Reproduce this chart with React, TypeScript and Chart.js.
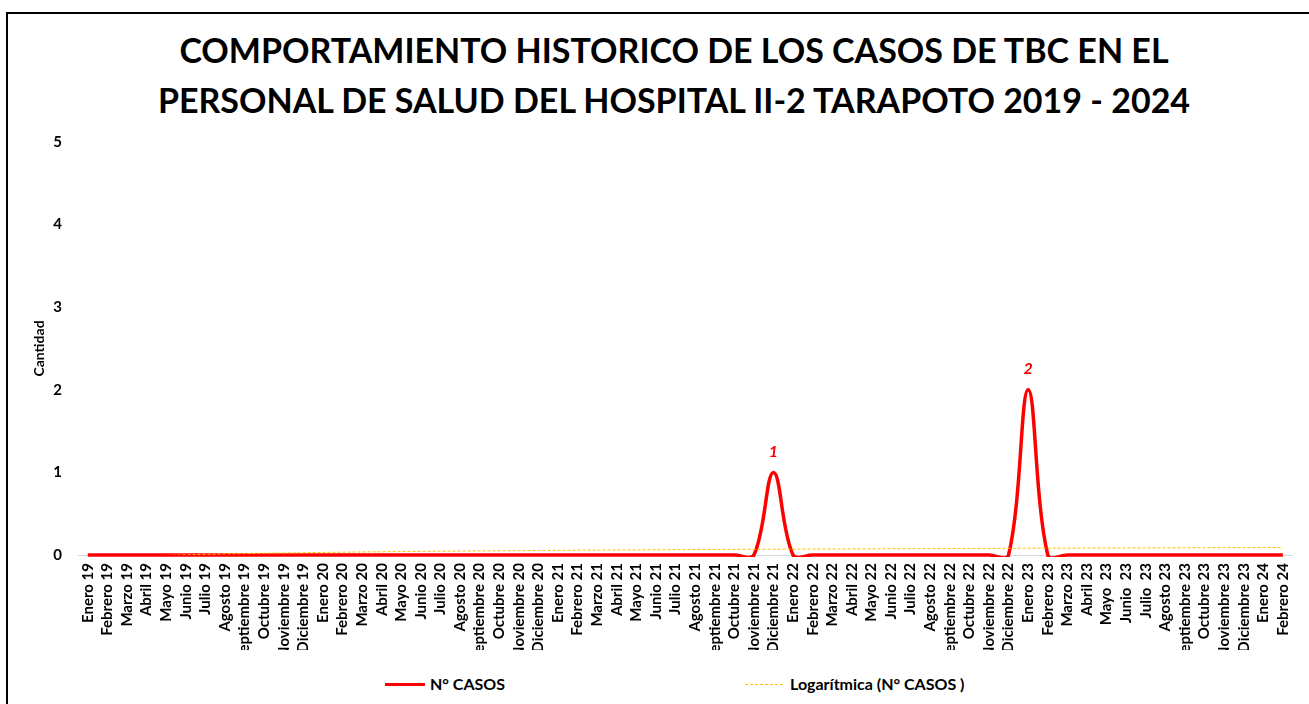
import React, { useEffect, useRef } from "react";
import { Chart, registerables } from "chart.js";

Chart.register(...registerables);

const CATEGORIES: string[] = [
  "Enero 19", "Febrero 19", "Marzo 19", "Abril 19", "Mayo 19", "Junio 19",
  "Julio 19", "Agosto 19", "Septiembre 19", "Octubre 19", "Noviembre 19", "Diciembre 19",
  "Enero 20", "Febrero 20", "Marzo 20", "Abril 20", "Mayo 20", "Junio 20",
  "Julio 20", "Agosto 20", "Septiembre 20", "Octubre 20", "Noviembre 20", "Diciembre 20",
  "Enero 21", "Febrero 21", "Marzo 21", "Abril 21", "Mayo 21", "Junio 21",
  "Julio 21", "Agosto 21", "Septiembre 21", "Octubre 21", "Noviembre 21", "Diciembre 21",
  "Enero 22", "Febrero 22", "Marzo 22", "Abril 22", "Mayo 22", "Junio 22",
  "Julio 22", "Agosto 22", "Septiembre 22", "Octubre 22", "Noviembre 22", "Diciembre 22",
  "Enero 23", "Febrero 23", "Marzo 23", "Abril 23", "Mayo  23", "Junio  23",
  "Julio  23", "Agosto 23", "Septiembre 23", "Octubre 23", "Noviembre 23", "Diciembre 23",
  "Enero 24", "Febrero 24",
];

const CASOS: number[] = [
  0, 0, 0, 0, 0, 0, 0, 0, 0, 0, 0, 0,
  0, 0, 0, 0, 0, 0, 0, 0, 0, 0, 0, 0,
  0, 0, 0, 0, 0, 0, 0, 0, 0, 0, 0, 1,
  0, 0, 0, 0, 0, 0, 0, 0, 0, 0, 0, 0,
  2, 0, 0, 0, 0, 0, 0, 0, 0, 0, 0, 0,
  0, 0,
];

// Logarithmic trend line
const TENDENCIA: number[] = [
  -0.066, -0.040, -0.024, -0.013, -0.005, 0.002, 0.008, 0.013, 0.017, 0.022, 0.025, 0.028,
  0.031, 0.034, 0.037, 0.039, 0.042, 0.044, 0.046, 0.048, 0.050, 0.051, 0.053, 0.055,
  0.056, 0.058, 0.059, 0.061, 0.062, 0.063, 0.064, 0.066, 0.067, 0.068, 0.069, 0.070,
  0.071, 0.072, 0.073, 0.074, 0.075, 0.076, 0.077, 0.078, 0.079, 0.079, 0.080, 0.081,
  0.082, 0.083, 0.083, 0.084, 0.085, 0.086, 0.086, 0.087, 0.088, 0.088, 0.089, 0.090,
  0.090, 0.091,
];

const Y_TICKS: number[] = [0, 1, 2, 3, 4, 5];

const TITLE_LINES: string[] = [
  "COMPORTAMIENTO HISTORICO DE LOS CASOS DE TBC EN EL",
  "PERSONAL DE SALUD DEL HOSPITAL II-2 TARAPOTO 2019 - 2024",
];

const SERIES_NAME = "N° CASOS";
const TREND_NAME = "Logarítmica (N° CASOS )";
const Y_TITLE = "Cantidad";

const FONT = "Lato, 'Open Sans', sans-serif";

const peakLabels = {
  id: "peakLabels",
  afterDatasetsDraw(chart: any) {
    const idx = chart.data.datasets.findIndex((d: any) => d.label === SERIES_NAME);
    const meta = chart.getDatasetMeta(idx);
    const ctx = chart.ctx;
    ctx.save();
    ctx.font = `italic bold 16px ${FONT}`;
    ctx.fillStyle = "#FF0000";
    ctx.textAlign = "center";
    ctx.textBaseline = "middle";
    meta.data.forEach((pt: any, i: number) => {
      const v = CASOS[i];
      if (v > 0) ctx.fillText(String(v), pt.x, pt.y - 21);
    });
    ctx.restore();
  },
};

export default function App() {
  const ref = useRef<HTMLCanvasElement | null>(null);

  useEffect(() => {
    if (!ref.current) return;
    const chart = new Chart(ref.current, {
      type: "line",
      data: {
        labels: CATEGORIES,
        datasets: [
          {
            label: SERIES_NAME,
            data: CASOS,
            borderColor: "#FF0000",
            backgroundColor: "#FF0000",
            borderWidth: 3.5,
            pointRadius: 0,
            tension: 0.38,
            order: 1,
            clip: { left: 3, right: 3, top: 3, bottom: 2 } as any,
          },
          {
            label: TREND_NAME,
            data: TENDENCIA,
            borderColor: "#FFC000",
            backgroundColor: "#FFC000",
            borderWidth: 1,
            borderDash: [3, 2],
            pointRadius: 0,
            tension: 0,
            order: 0,
            clip: 0 as any,
          },
        ],
      },
      options: {
        responsive: false,
        animation: false,
        events: [],
        layout: { padding: { top: 142, right: 16, bottom: 0, left: 0 } },
        elements: { line: { capBezierPoints: false } },
        plugins: {
          legend: { display: false },
          tooltip: { enabled: false },
          title: { display: false },
        },
        scales: {
          x: {
            offset: true,
            grid: { display: false, drawTicks: false },
            border: { display: true, color: "#D9D9D9", width: 1 },
            ticks: {
              autoSkip: false,
              minRotation: 90,
              maxRotation: 90,
              padding: 8,
              color: "#000",
              font: { family: FONT, size: 15, weight: "bold" },
            },
            afterFit: (scale: any) => {
              scale.height = 95;
            },
          },
          y: {
            min: 0,
            max: 5,
            afterBuildTicks: (scale: any) => {
              scale.ticks = Y_TICKS.map((v) => ({ value: v }));
            },
            grid: { display: false, drawTicks: false },
            border: { display: false },
            ticks: {
              padding: 16,
              color: "#000",
              font: { family: FONT, size: 15, weight: "bold" },
            },
            title: {
              display: true,
              text: Y_TITLE,
              color: "#000",
              font: { family: FONT, size: 14, weight: "bold" },
              padding: { top: 31, bottom: 0 },
            },
            afterFit: (scale: any) => {
              scale.width = 78;
            },
          },
        },
      },
      plugins: [peakLabels],
    });
    return () => chart.destroy();
  }, []);

  const legendText: React.CSSProperties = {
    position: "absolute",
    top: 674,
    fontFamily: FONT,
    fontWeight: "bold",
    fontSize: 16,
    lineHeight: "20px",
    color: "#000",
    whiteSpace: "pre",
  };

  return (
    <div
      style={{
        position: "absolute",
        left: 0,
        top: 0,
        width: 1309,
        height: 704,
        overflow: "hidden",
        background: "#fff",
      }}
    >
      <div
        style={{
          position: "absolute",
          left: 6,
          top: 12,
          width: 1330,
          height: 730,
          border: "2px solid #000",
          boxSizing: "border-box",
        }}
      />
      <div
        style={{
          position: "absolute",
          left: 0,
          top: 25,
          width: 1348,
          textAlign: "center",
          fontFamily: FONT,
          fontWeight: "bold",
          fontSize: 34,
          lineHeight: "50px",
          color: "#000",
          whiteSpace: "pre",
        }}
      >
        {TITLE_LINES.map((t) => (
          <div key={t}>{t}</div>
        ))}
      </div>
      <div style={{ position: "absolute", left: 0, top: 0, width: 1309, height: 650 }}>
        <canvas ref={ref} width={1309} height={650} style={{ display: "block" }} />
      </div>
      <div
        style={{
          position: "absolute",
          left: 385,
          top: 683,
          width: 40,
          height: 3,
          background: "#FF0000",
        }}
      />
      <div style={{ ...legendText, left: 430 }}>{SERIES_NAME}</div>
      <div
        style={{
          position: "absolute",
          left: 745,
          top: 684,
          width: 40,
          height: 1,
          background: "repeating-linear-gradient(90deg, #FFC000 0 3px, transparent 3px 5px)",
        }}
      />
      <div style={{ ...legendText, left: 790 }}>{TREND_NAME}</div>
    </div>
  );
}
